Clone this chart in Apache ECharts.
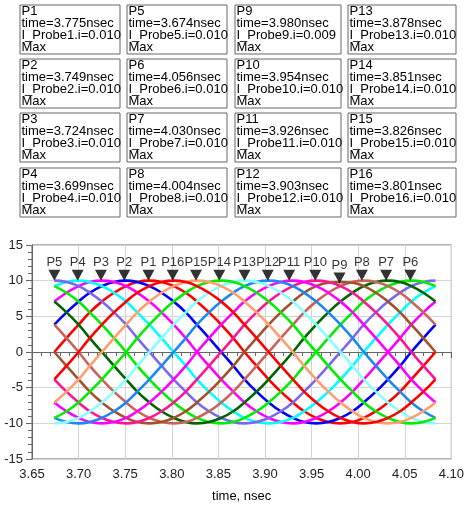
<!DOCTYPE html>
<html><head><meta charset="utf-8">
<script src="https://cdn.jsdelivr.net/npm/echarts@6/dist/echarts.min.js"></script>
<style>html,body{margin:0;padding:0;background:#fff}#c{width:467px;height:507px}</style>
</head><body><div id="c"></div>
<script>
// time samples (nsec)
const timeNs = [3.674,3.687,3.700,3.712,3.725,3.738,3.751,3.763,3.776,3.789,3.802,3.815,3.827,3.840,3.853,3.866,3.878,3.891,3.904,3.917,3.930,3.942,3.955,3.968,3.981,3.994,4.006,4.019,4.032,4.045,4.057,4.070,4.083];
// probe currents (mA)
const P1  = [0,1.95,3.83,5.56,7.07,8.31,9.24,9.81,10,9.81,9.24,8.31,7.07,5.56,3.83,1.95,0,-1.95,-3.83,-5.56,-7.07,-8.31,-9.24,-9.81,-10,-9.81,-9.24,-8.31,-7.07,-5.56,-3.83,-1.95,0];
const P2  = [3.83,5.56,7.07,8.31,9.24,9.81,10,9.81,9.24,8.31,7.07,5.56,3.83,1.95,0,-1.95,-3.83,-5.56,-7.07,-8.31,-9.24,-9.81,-10,-9.81,-9.24,-8.31,-7.07,-5.56,-3.83,-1.95,0,1.95,3.83];
const P3  = [7.07,8.31,9.24,9.81,10,9.81,9.24,8.31,7.07,5.56,3.83,1.95,0,-1.95,-3.83,-5.56,-7.07,-8.31,-9.24,-9.81,-10,-9.81,-9.24,-8.31,-7.07,-5.56,-3.83,-1.95,0,1.95,3.83,5.56,7.07];
const P4  = [9.24,9.81,10,9.81,9.24,8.31,7.07,5.56,3.83,1.95,0,-1.95,-3.83,-5.56,-7.07,-8.31,-9.24,-9.81,-10,-9.81,-9.24,-8.31,-7.07,-5.56,-3.83,-1.95,0,1.95,3.83,5.56,7.07,8.31,9.24];
const P5  = [10,9.81,9.24,8.31,7.07,5.56,3.83,1.95,0,-1.95,-3.83,-5.56,-7.07,-8.31,-9.24,-9.81,-10,-9.81,-9.24,-8.31,-7.07,-5.56,-3.83,-1.95,0,1.95,3.83,5.56,7.07,8.31,9.24,9.81,10];
const P6  = [9.24,8.31,7.07,5.56,3.83,1.95,0,-1.95,-3.83,-5.56,-7.07,-8.31,-9.24,-9.81,-10,-9.81,-9.24,-8.31,-7.07,-5.56,-3.83,-1.95,0,1.95,3.83,5.56,7.07,8.31,9.24,9.81,10,9.81,9.24];
const P7  = [7.07,5.56,3.83,1.95,0,-1.95,-3.83,-5.56,-7.07,-8.31,-9.24,-9.81,-10,-9.81,-9.24,-8.31,-7.07,-5.56,-3.83,-1.95,0,1.95,3.83,5.56,7.07,8.31,9.24,9.81,10,9.81,9.24,8.31,7.07];
const P8  = [3.83,1.95,0,-1.95,-3.83,-5.56,-7.07,-8.31,-9.24,-9.81,-10,-9.81,-9.24,-8.31,-7.07,-5.56,-3.83,-1.95,0,1.95,3.83,5.56,7.07,8.31,9.24,9.81,10,9.81,9.24,8.31,7.07,5.56,3.83];
const P9  = [0,-1.95,-3.83,-5.56,-7.07,-8.31,-9.24,-9.81,-10,-9.81,-9.24,-8.31,-7.07,-5.56,-3.83,-1.95,0,1.95,3.83,5.56,7.07,8.31,9.24,9.7,9.8,9.7,9.24,8.31,7.07,5.56,3.83,1.95,0];
const P10 = [-3.83,-5.56,-7.07,-8.31,-9.24,-9.81,-10,-9.81,-9.24,-8.31,-7.07,-5.56,-3.83,-1.95,0,1.95,3.83,5.56,7.07,8.31,9.24,9.81,10,9.81,9.24,8.31,7.07,5.56,3.83,1.95,0,-1.95,-3.83];
const P11 = [-7.07,-8.31,-9.24,-9.81,-10,-9.81,-9.24,-8.31,-7.07,-5.56,-3.83,-1.95,0,1.95,3.83,5.56,7.07,8.31,9.24,9.81,10,9.81,9.24,8.31,7.07,5.56,3.83,1.95,0,-1.95,-3.83,-5.56,-7.07];
const P12 = [-9.24,-9.81,-10,-9.81,-9.24,-8.31,-7.07,-5.56,-3.83,-1.95,0,1.95,3.83,5.56,7.07,8.31,9.24,9.81,10,9.81,9.24,8.31,7.07,5.56,3.83,1.95,0,-1.95,-3.83,-5.56,-7.07,-8.31,-9.24];
const P13 = [-10,-9.81,-9.24,-8.31,-7.07,-5.56,-3.83,-1.95,0,1.95,3.83,5.56,7.07,8.31,9.24,9.81,10,9.81,9.24,8.31,7.07,5.56,3.83,1.95,0,-1.95,-3.83,-5.56,-7.07,-8.31,-9.24,-9.81,-10];
const P14 = [-9.24,-8.31,-7.07,-5.56,-3.83,-1.95,0,1.95,3.83,5.56,7.07,8.31,9.24,9.81,10,9.81,9.24,8.31,7.07,5.56,3.83,1.95,0,-1.95,-3.83,-5.56,-7.07,-8.31,-9.24,-9.81,-10,-9.81,-9.24];
const P15 = [-7.07,-5.56,-3.83,-1.95,0,1.95,3.83,5.56,7.07,8.31,9.24,9.81,10,9.81,9.24,8.31,7.07,5.56,3.83,1.95,0,-1.95,-3.83,-5.56,-7.07,-8.31,-9.24,-9.81,-10,-9.81,-9.24,-8.31,-7.07];
const P16 = [-3.83,-1.95,0,1.95,3.83,5.56,7.07,8.31,9.24,9.81,10,9.81,9.24,8.31,7.07,5.56,3.83,1.95,0,-1.95,-3.83,-5.56,-7.07,-8.31,-9.24,-9.81,-10,-9.81,-9.24,-8.31,-7.07,-5.56,-3.83];

// marker readouts
const probeNames = ['P1','P2','P3','P4','P5','P6','P7','P8','P9','P10','P11','P12','P13','P14','P15','P16'];
const probeTimes = [3.775,3.749,3.724,3.699,3.674,4.056,4.030,4.004,3.980,3.954,3.926,3.903,3.878,3.851,3.826,3.801];
const probeReadout = ['0.010','0.010','0.010','0.010','0.010','0.010','0.010','0.010','0.009','0.010','0.010','0.010','0.010','0.010','0.010','0.010'];
const markerY = [10,10,10,10,10,10,10,10,9.6,10,10,10,10,10,10,10];
const xTicks = [3.65,3.70,3.75,3.80,3.85,3.90,3.95,4.00,4.05,4.10];
const yTicks = [-15,-10,-5,0,5,10,15];
const xTitle = 'time, nsec';

const curves = [P1,P2,P3,P4,P5,P6,P7,P8,P9,P10,P11,P12,P13,P14,P15,P16];
const colors = ['#ff0000','#0000ff','#ff00ff','#00ffff','#7b68ee','#00ee00','#006400','#c8645a',
                '#a0522d','#ff1493','#ff00ff','#1e88f0','#88ffff','#00ee00','#ff9f70','#ff0000'];
const FONT = '"Liberation Sans", Arial, sans-serif';

const chart = echarts.init(document.getElementById('c'), null, {renderer:'canvas'});

const series = curves.map((vals, k) => ({
  name: probeNames[k], type: 'line', smooth: true, showSymbol: false,
  data: timeNs.map((t, i) => [t, vals[i]]),
  lineStyle: {color: colors[k], width: 2.6}, itemStyle: {color: colors[k]},
  silent: true, z: 2
}));
series.push({
  type: 'scatter', z: 5, silent: true,
  symbol: 'triangle', symbolRotate: 180, symbolSize: [12, 11], symbolOffset: [0, -5.5],
  itemStyle: {color: '#000'},
  label: {show: true, position: 'top', distance: 1, color: '#000', fontSize: 13, fontFamily: FONT,
          formatter: p => p.data[2]},
  data: probeTimes.map((t, i) => [t, markerY[i], probeNames[i]])
});

// readout boxes
const colLeft = [20, 127, 235, 348];
const colWidth = [100, 100, 106, 108];
const rowTop = [5, 59, 113, 168];
const graphics = [];
probeNames.forEach((n, i) => {
  const c = Math.floor(i / 4), r = i % 4;
  const x = colLeft[c], y = rowTop[r];
  graphics.push({type: 'rect', shape: {x: x, y: y, width: colWidth[c], height: 49},
    style: {fill: '#fff', stroke: '#666', lineWidth: 1}});
  graphics.push({type: 'text', x: x + 1.5, y: y + 0.5,
    style: {text: n + '\ntime=' + probeTimes[i].toFixed(3) + 'nsec\nI_Probe' + (i + 1) + '.i=' + probeReadout[i] + '\nMax',
      font: '13px ' + FONT, fill: '#000', lineHeight: 12, textVerticalAlign: 'top', verticalAlign: 'top'}});
});

chart.setOption({
  animation: false,
  backgroundColor: '#fff',
  grid: {left: 32, right: 13, top: 245, bottom: 48, show: true, borderColor: '#666', borderWidth: 1},
  xAxis: {
    type: 'value', min: xTicks[0], max: xTicks[xTicks.length - 1], interval: 0.05,
    name: xTitle, nameLocation: 'middle', nameGap: 31,
    nameTextStyle: {color: '#000', fontSize: 13, fontFamily: FONT},
    axisLine: {lineStyle: {color: '#666'}},
    axisTick: {length: 6, lineStyle: {color: '#666'}},
    minorTick: {show: true, splitNumber: 5, length: 4, lineStyle: {color: '#666'}},
    axisLabel: {color: '#222', fontSize: 13, fontFamily: FONT, margin: 9, formatter: v => v.toFixed(2)},
    splitLine: {show: true, lineStyle: {color: '#d4d4d4', width: 1}}
  },
  yAxis: {
    type: 'value', min: yTicks[0], max: yTicks[yTicks.length - 1], interval: 5,
    axisLine: {show: true, lineStyle: {color: '#666'}},
    axisTick: {show: true, length: 6, lineStyle: {color: '#666'}},
    minorTick: {show: true, splitNumber: 5, length: 4, lineStyle: {color: '#666'}},
    axisLabel: {color: '#222', fontSize: 13, fontFamily: FONT, margin: 9},
    splitLine: {show: true, lineStyle: {color: '#d4d4d4', width: 1}}
  },
  graphic: graphics,
  series: series
});
</script></body></html>
